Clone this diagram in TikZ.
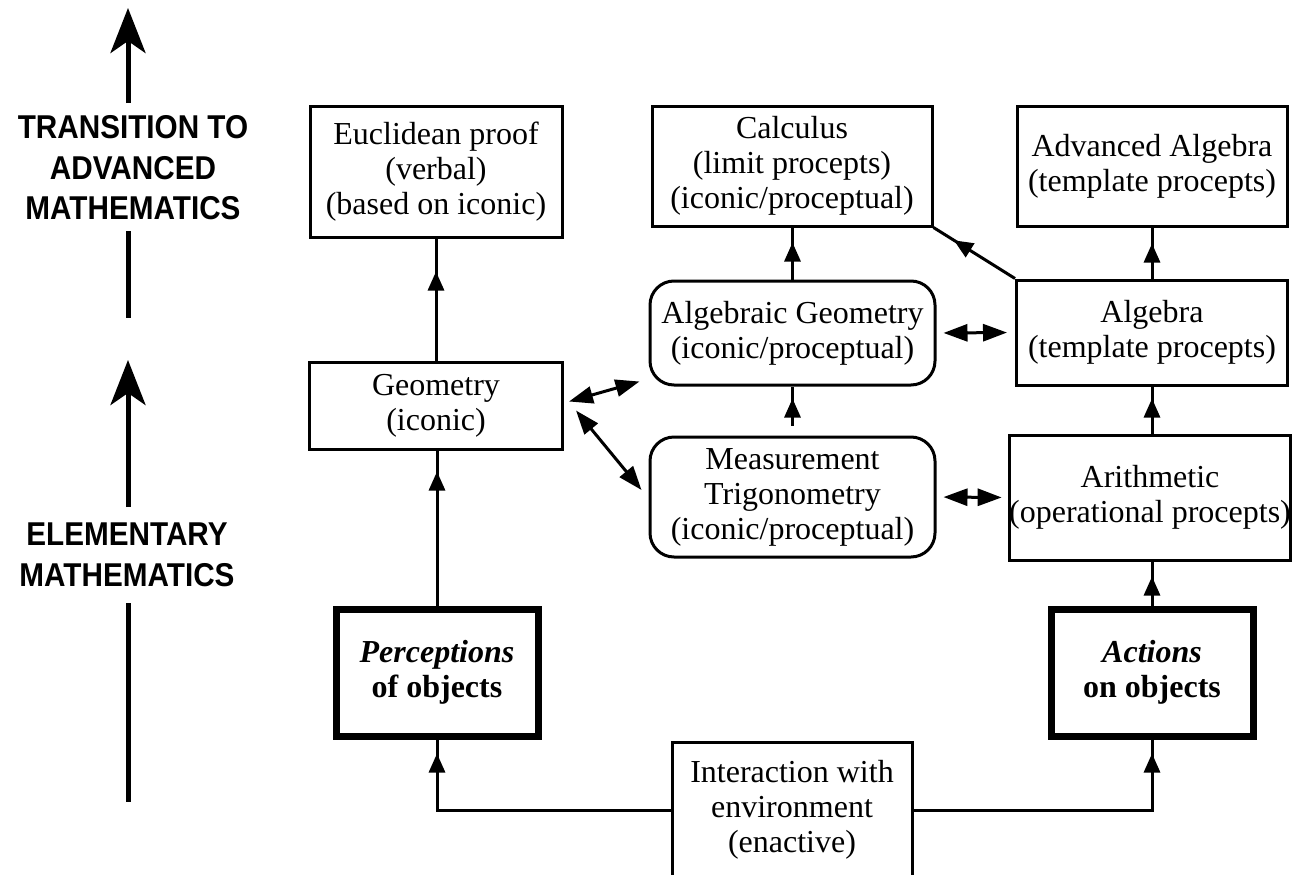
\documentclass[tikz,border=0pt]{standalone}
\usepackage{fontspec}
\setmainfont{Liberation Serif}
\newfontfamily\labfont{Liberation Sans}[FakeStretch=0.9]
\usetikzlibrary{arrows.meta,decorations.markings,calc}
\begin{document}
\begin{tikzpicture}[x=1pt,y=-1pt,
  box/.style={draw, line width=3pt, align=center, font={\fontsize{32}{35}\selectfont}, inner sep=0pt},
  rbox/.style={box, rounded corners=24pt},
  tbox/.style={box, line width=7pt},
  lab/.style={align=center, font={\labfont\bfseries\fontsize{33}{40.5}\selectfont}},
  conn/.style={line width=3pt},
  tipat/.style={conn, postaction={decorate}, decoration={markings, mark=at position #1 with {\arrow{Triangle[length=19pt,width=16pt]}}}},
  dbl/.style={conn, {Triangle[length=24pt,width=17pt]}-{Triangle[length=24pt,width=17pt]}},
  big/.style={line width=5pt, -{Stealth[length=45pt,width=35pt,inset=12pt]}},
  bigline/.style={line width=5pt}
]
\useasboundingbox (0,0) rectangle (1298,875);

% boxes
\node[box, minimum width=252pt, minimum height=131pt] (eucl) at (436,171.5) {Euclidean proof\\(verbal)\\(based on iconic)};
\node[box, minimum width=280pt, minimum height=120pt] (calc) at (792,166) {Calculus\\(limit procepts)\\(iconic/proceptual)};
\node[box, minimum width=270pt, minimum height=120pt] (adv) at (1152,166) {Advanced Algebra\\(template procepts)};
\node[box, minimum width=253pt, minimum height=87pt] (geom) at (436,405.5) {Geometry\\(iconic)};
\node[rbox, minimum width=285pt, minimum height=104pt] (ag) at (792.5,333) {Algebraic Geometry\\(iconic/proceptual)};
\node[box, minimum width=271pt, minimum height=105pt] (alg) at (1152,332.5) {Algebra\\(template procepts)};
\node[rbox, minimum width=285pt, minimum height=120pt] (mt) at (792.5,497) {Measurement\\Trigonometry\\(iconic/proceptual)};
\node[box, minimum width=280pt, minimum height=125pt] (arith) at (1150,497.5) {Arithmetic\\(operational procepts)};
\node[tbox, minimum width=202pt, minimum height=127pt] (perc) at (437,672.5) {\textbf{\textit{Perceptions}}\\\textbf{of objects}};
\node[tbox, minimum width=202pt, minimum height=127pt] (act) at (1152,672.5) {\textbf{\textit{Actions}}\\\textbf{on objects}};
\node[box, minimum width=240pt, minimum height=136pt] (inter) at (792,810) {Interaction with\\environment\\(enactive)};

% connectors
\draw[tipat=-14pt] (inter.west) -| (perc.south);
\draw[tipat=-14pt] (inter.east) -| (act.south);
\draw[tipat=-21pt] (perc.north) -- (perc.north |- geom.south);
\draw[tipat=-33pt] (geom.north) -- (geom.north |- eucl.south);
\draw[tipat=-15pt] (ag.north) -- (ag.north |- calc.south);
\draw[tipat=-12pt] ($(mt.north)+(0,-10)$) -- (mt.north |- ag.south);
\draw[tipat=-16pt] (alg.north) -- (alg.north |- adv.south);
\draw[tipat=-12pt] (alg.south |- arith.north) -- (alg.south);
\draw[tipat=-15pt] (act.north) -- (act.north |- arith.south);
\draw[tipat=-24pt] (alg.north west) -- (calc.south east);
\draw[dbl, shorten <=7pt, shorten >=8pt] (ag.east) -- (alg.west);
\draw[dbl, shorten <=7pt, shorten >=6pt] (mt.east) -- (arith.west);
\draw[dbl] ($(geom.east)+(5,-4)$) -- ($(ag.south west)+(-9,-5)$);
\draw[dbl] ($(geom.east)+(12,5)$) -- ($(mt.west)+(-7,-7)$);

% left side labels and arrows
\node[lab] (trans) at (133,168) {TRANSITION TO\\ADVANCED\\MATHEMATICS};
\node[lab] (elem) at (127,555) {ELEMENTARY\\MATHEMATICS};
\coordinate (tt) at (128,8);
\coordinate (tb) at (128,318);
\coordinate (et) at (128,360);
\coordinate (eb) at (128,802);
\draw[big] (tt |- 0,103) -- (tt);
\draw[bigline] (tb |- 0,231) -- (tb);
\draw[big] (et |- 0,507) -- (et);
\draw[bigline] (eb |- 0,603) -- (eb);
\end{tikzpicture}
\end{document}
